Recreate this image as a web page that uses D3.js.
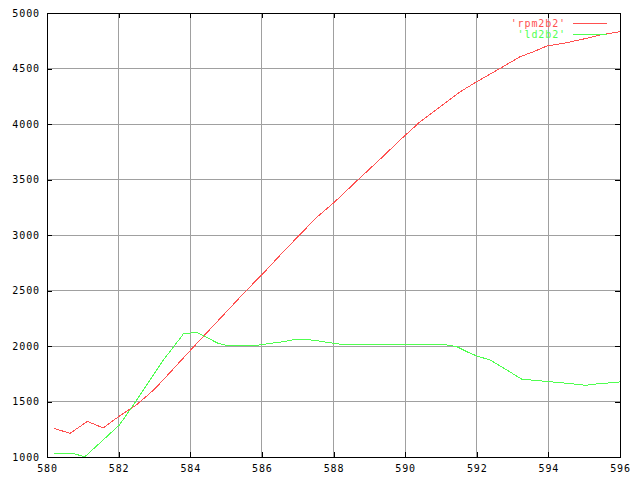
<!DOCTYPE html>
<html>
<head>
<meta charset="utf-8">
<script src="https://cdn.jsdelivr.net/npm/d3@7"></script>
<style>
html,body{margin:0;padding:0;background:#fff;}
svg{display:block;}
text{font-family:"DejaVu Sans Mono",monospace;font-size:10px;letter-spacing:0.9px;}
</style>
</head>
<body>
<svg id="chart" width="640" height="480"></svg>
<script>
const xTicks = [580,582,584,586,588,590,592,594,596];
const yTicks = [1000,1500,2000,2500,3000,3500,4000,4500,5000];

const seriesNames = ["'rpm2b2'", "'ld2b2'"];

const rpmX = [580.2,580.64,581.13,581.57,582.02,582.5,583.0,583.5,584.0,584.5,585.0,585.58,586.04,586.6,587.07,587.53,588.04,588.65,589.39,589.86,590.42,590.98,591.54,592.0,592.65,593.21,593.58,593.96,594.52,595.07,595.45,596.0];
const rpmY = [1258,1213,1321,1261,1369,1470,1610,1784,1960,2133,2305,2505,2655,2850,3006,3159,3300,3487,3710,3856,4021,4156,4291,4381,4501,4606,4651,4703,4733,4772,4802,4832];

const ldX = [580.2,580.7,581.06,582.02,582.41,583.25,583.81,584.18,584.78,585.06,585.8,586.23,586.6,586.93,587.16,587.49,587.81,588.23,591.07,591.44,591.72,592.0,592.37,592.84,593.26,593.49,593.82,594.33,594.7,595.03,595.35,596.0];
const ldY = [1033,1033,1003,1288,1468,1874,2108,2123,2024,2003,2003,2024,2039,2060,2060,2051,2033,2015,2015,1994,1949,1910,1874,1784,1700,1694,1685,1670,1658,1646,1658,1676];

const colors = ["#ff5050","#50ff50"];

const L = 47, R = 620, T = 13, B = 457;
const svg = d3.select("#chart");
const x = d3.scaleLinear().domain([580,596]).range([L,R]);
const y = d3.scaleLinear().domain([1000,5000]).range([B,T]);

// grid
const g = svg.append("g").attr("shape-rendering","crispEdges");
g.selectAll("line.vg").data(xTicks.slice(1,-1)).join("line")
  .attr("x1",d=>x(d)).attr("x2",d=>x(d)).attr("y1",T).attr("y2",B)
  .attr("stroke","#a0a0a0").attr("stroke-width",1);
g.selectAll("line.hg").data(yTicks.slice(1,-1)).join("line")
  .attr("class","hg")
  .attr("y1",d=>y(d)).attr("y2",d=>y(d)).attr("x1",L).attr("x2",R)
  .attr("stroke","#a0a0a0").attr("stroke-width",1);

// axes
function styleAxis(sel){
  sel.attr("shape-rendering","crispEdges");
  sel.select(".domain").remove();
  sel.selectAll(".tick line").attr("stroke","#000");
  sel.selectAll("text").attr("fill","#000").style("font-family",'"DejaVu Sans Mono",monospace').style("font-size","10px").style("letter-spacing","0.9px");
}
svg.append("g").attr("transform",`translate(0,${B})`)
  .call(d3.axisBottom(x).tickValues(xTicks).tickSize(-5).tickPadding(8).tickFormat(d3.format("d")))
  .call(styleAxis);
svg.append("g").attr("transform",`translate(0,${T})`)
  .call(d3.axisTop(x).tickValues(xTicks).tickSize(-5).tickFormat(""))
  .call(styleAxis);
svg.append("g").attr("transform",`translate(${L},0)`)
  .call(d3.axisLeft(y).tickValues(yTicks).tickSize(-5).tickPadding(7).tickFormat(d3.format("d")))
  .call(styleAxis);
svg.append("g").attr("transform",`translate(${R},0)`)
  .call(d3.axisRight(y).tickValues(yTicks).tickSize(-5).tickFormat(""))
  .call(styleAxis);

// border
svg.append("rect").attr("x",L).attr("y",T).attr("width",R-L).attr("height",B-T)
  .attr("fill","none").attr("stroke","#000").attr("shape-rendering","crispEdges");

// lines
const line = d3.line().x(d=>x(d[0])).y(d=>y(d[1]));
const series = [d3.zip(rpmX,rpmY), d3.zip(ldX,ldY)];
series.forEach((s,i)=>{
  svg.append("path").datum(s).attr("d",line)
    .attr("fill","none").attr("stroke",colors[i]).attr("stroke-width",1)
    .attr("shape-rendering","crispEdges");
});

// legend
const leg = svg.append("g");
seriesNames.forEach((n,i)=>{
  const ly = 23.5 + i*11;
  leg.append("text").attr("x",566).attr("y",ly+3).attr("text-anchor","end")
    .attr("fill",colors[i]).text(n);
  leg.append("line").attr("x1",573).attr("x2",607).attr("y1",ly).attr("y2",ly)
    .attr("stroke",colors[i]).attr("stroke-width",1).attr("shape-rendering","crispEdges");
});
</script>
</body>
</html>
